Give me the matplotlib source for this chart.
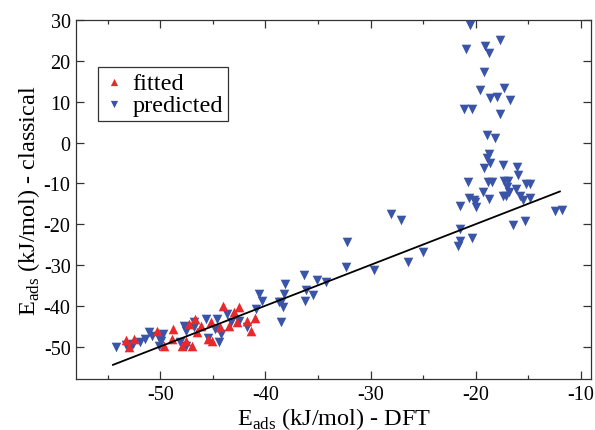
import matplotlib
matplotlib.use("Agg")
import matplotlib.pyplot as plt
from matplotlib.ticker import MultipleLocator

# fitted points (red up-triangles)
fitted_x = [-53.3, -53.0, -52.5, -50.3, -49.6, -48.8, -48.9, -47.9, -47.6, -47.3,
            -46.7, -47.0, -46.5, -46.1, -45.5, -45.1, -45.2, -44.0, -44.3, -43.5,
            -43.0, -42.5, -42.7, -41.8, -41.4, -41.0]
fitted_y = [-48.4, -50.2, -48.2, -46.2, -49.8, -45.6, -48.2, -49.8, -48.6, -44.5,
            -43.3, -49.8, -46.5, -44.9, -48.2, -48.6, -44.1, -40.0, -45.3, -44.9,
            -41.6, -40.4, -44.1, -43.7, -46.2, -42.9]

# predicted points (blue down-triangles)
predicted_x = [-20.5, -20.9, -19.1, -18.7, -17.7, -19.2, -19.6, -17.3, -18.6, -18.0,
               -16.7, -21.1, -20.4, -17.7, -18.9, -18.2, -18.7, -18.9, -18.6, -19.2,
               -17.4, -16.1, -16.0, -20.7, -18.8, -18.5, -17.3, -16.9, -15.2, -14.8,
               -17.0, -19.3, -16.2, -16.8, -17.4, -17.1, -15.8, -14.8, -15.5, -20.6,
               -20.2, -20.1, -20.0, -18.7, -21.5, -12.5, -11.8, -16.5, -15.3, -21.5,
               -21.5, -20.4, -21.7,
               -28.1, -27.1, -32.2, -32.3, -29.7, -26.4, -25.0, -34.2, -35.1, -36.3,
               -36.1, -35.5, -36.2, -38.1, -38.2, -38.3, -38.5, -38.5,
               -54.2, -53.0, -52.6, -51.9, -51.5, -51.1, -50.8, -50.1, -50.1, -49.7,
               -47.7, -47.6, -46.8, -48.1, -47.6, -45.7, -45.5, -44.8, -44.4, -44.6,
               -44.2, -43.7, -43.3, -42.5, -41.8, -40.9, -40.6, -40.3, -38.7, -53.3,
               -52.8, -46.8, -49.9]
predicted_y = [28.8, 23.0, 23.7, 21.9, 25.1, 17.2, 12.8, 13.3, 10.8, 11.2,
               10.5, 8.2, 8.2, 7.0, 1.9, 1.1, -2.7, -3.7, -4.9, -6.3,
               -5.5, -6.1, -8.0, -9.6, -9.6, -9.6, -9.5, -9.5, -10.1, -10.1,
               -11.0, -12.1, -11.4, -12.2, -13.0, -13.0, -13.1, -13.5, -14.1, -13.6,
               -14.0, -14.7, -15.7, -13.9, -15.5, -16.7, -16.5, -20.2, -19.2, -21.2,
               -24.1, -23.3, -25.3,
               -17.4, -19.0, -24.5, -30.6, -31.2, -29.4, -26.8, -34.1, -33.7, -32.5,
               -36.1, -37.3, -38.9, -34.7, -37.2, -40.3, -44.1, -39.0,
               -50.2, -49.7, -49.4, -48.8, -48.2, -46.4, -47.5, -47.8, -49.8, -47.0,
               -44.9, -46.2, -44.1, -49.0, -49.8, -43.3, -47.8, -45.7, -49.0, -43.3,
               -47.0, -42.1, -44.1, -43.7, -45.3, -40.8, -37.2, -38.8, -39.2, -49.7,
               -49.8, -45.3, -48.6]

# parity line
line_x = [-54.5, -12.0]
line_y = [-54.5, -12.0]

plt.rcParams['font.family'] = 'Liberation Serif'
plt.rcParams['mathtext.fontset'] = 'custom'
plt.rcParams['mathtext.rm'] = 'Liberation Serif'
plt.rcParams['axes.unicode_minus'] = False

fig, ax = plt.subplots(figsize=(5.95, 4.31), dpi=100)
fig.subplots_adjust(left=0.128, right=0.994, bottom=0.118, top=0.951)

ax.scatter(predicted_x, predicted_y, marker='v', s=48, color='#3a55a8',
           linewidths=0, label='predicted', zorder=3)
ax.scatter(fitted_x, fitted_y, marker='^', s=48, color='#e8282b',
           linewidths=0, label='fitted', zorder=3)
ax.plot(line_x, line_y, color='black', lw=1.3, zorder=4)

ax.set_xlim(-58, -9)
ax.set_ylim(-58, 30)
ax.xaxis.set_major_locator(MultipleLocator(10))
ax.xaxis.set_minor_locator(MultipleLocator(5))
ax.yaxis.set_major_locator(MultipleLocator(10))
ax.tick_params(which='both', direction='in', top=True, right=True,
               labelsize=14.5, color='#333333')
ax.tick_params(which='major', length=6, width=0.9, pad=4)
ax.tick_params(which='minor', length=3, width=0.9)
for s in ax.spines.values():
    s.set_linewidth(0.9)
    s.set_color('#333333')

ax.set_xlabel(r'E$_{\rm ads}$ (kJ/mol) - DFT', fontsize=17.5, labelpad=1)
ax.set_ylabel(r'E$_{\rm ads}$ (kJ/mol) - classical', fontsize=17.5, labelpad=1)

handles, labels = ax.get_legend_handles_labels()
leg = ax.legend(handles[::-1], labels[::-1], loc='upper left',
                bbox_to_anchor=(0.043, 0.87), borderaxespad=0,
                fontsize=17.5, markerscale=0.75, handletextpad=0.3,
                handlelength=0.9, labelspacing=0.0, borderpad=0.2,
                fancybox=False, framealpha=1)
leg.get_frame().set_edgecolor('#333333')
leg.get_frame().set_linewidth(0.9)

plt.savefig('out.png', dpi=100)
